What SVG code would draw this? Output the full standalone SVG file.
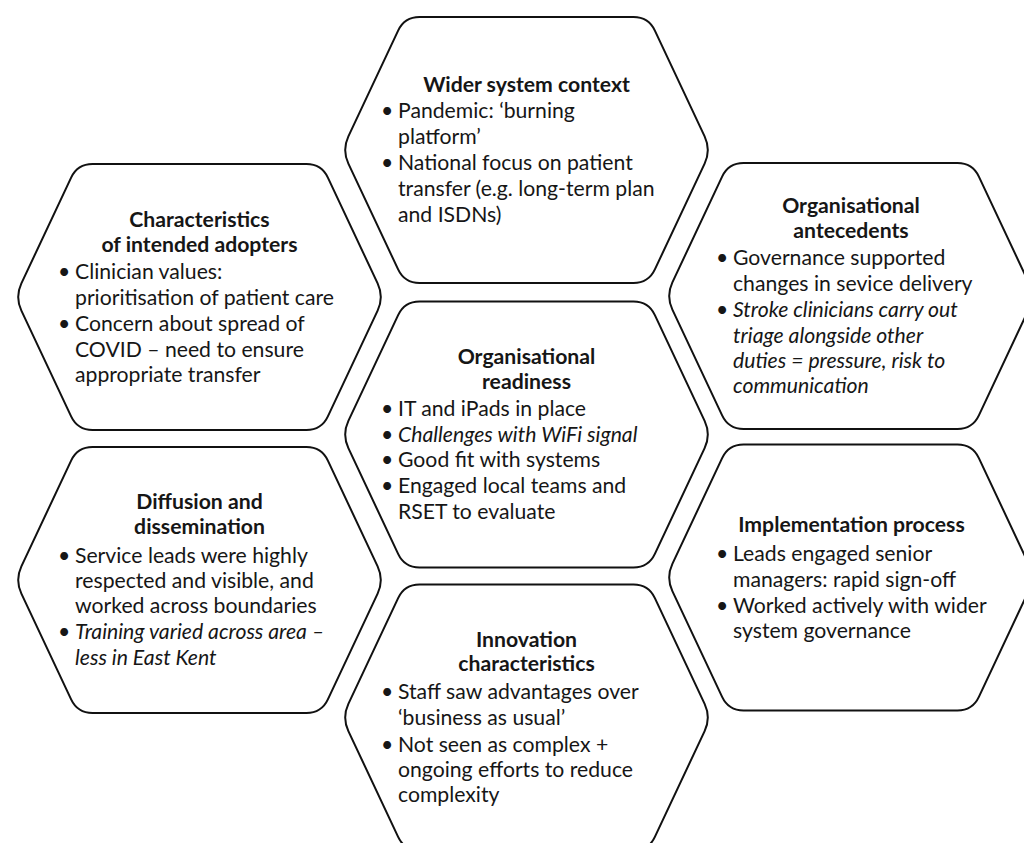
<svg xmlns="http://www.w3.org/2000/svg" xmlns:xlink="http://www.w3.org/1999/xlink" width="1024" height="843" viewBox="0 0 1024 843">
  <defs>
    <!-- rounded hexagon, centred on the origin -->
    <path id="hex" d="M-107,-133 L107,-133 Q122,-133 128.38,-119.42 L178.12,-13.58 Q184.5,0 178.12,13.58 L128.38,119.42 Q122,133 107,133 L-107,133 Q-122,133 -128.38,119.42 L-178.12,13.58 Q-184.5,0 -178.12,-13.58 L-128.38,-119.42 Q-122,-133 -107,-133 Z"/>
    <style>
      .cell { fill: #ffffff; stroke: #111111; stroke-width: 2; }
      text { font-family: Lato, "Open Sans", "Liberation Sans", sans-serif; font-size: 21.2px; fill: #161616; }
      .title { font-weight: bold; text-anchor: middle; }
      .it { font-style: italic; }
    </style>
  </defs>
  <rect width="1024" height="843" fill="#ffffff"/>

  <!-- no connectors in this figure -->
  <g id="connectors"/>

  <g id="wider-system-context">
    <use xlink:href="#hex" href="#hex" x="526.5" y="150" class="cell"/>
    <text class="title" x="526.5" y="92">Wider system context</text>
    <text x="381" y="118">•</text><text x="398" y="118">Pandemic: ‘burning</text>
    <text x="398" y="144">platform’</text>
    <text x="381" y="170">•</text><text x="398" y="170">National focus on patient</text>
    <text x="398" y="196">transfer (e.g. long-term plan</text>
    <text x="398" y="222">and ISDNs)</text>
  </g>

  <g id="characteristics-of-adopters">
    <use xlink:href="#hex" href="#hex" x="199.5" y="297" class="cell"/>
    <text class="title" x="199.5" y="227">Characteristics</text>
    <text class="title" x="199.5" y="252">of intended adopters</text>
    <text x="58" y="279">•</text><text x="75" y="279">Clinician values:</text>
    <text x="75" y="305">prioritisation of patient care</text>
    <text x="58" y="331">•</text><text x="75" y="331">Concern about spread of</text>
    <text x="75" y="357">COVID – need to ensure</text>
    <text x="75" y="382">appropriate transfer</text>
  </g>

  <g id="organisational-antecedents">
    <use xlink:href="#hex" href="#hex" x="850.5" y="296" class="cell"/>
    <text class="title" x="851" y="213">Organisational</text>
    <text class="title" x="851" y="238">antecedents</text>
    <text x="716" y="265">•</text><text x="733" y="265">Governance supported</text>
    <text x="733" y="291">changes in sevice delivery</text>
    <text x="716" y="317">•</text><text x="733" y="317" class="it">Stroke clinicians carry out</text>
    <text x="733" y="343" class="it">triage alongside other</text>
    <text x="733" y="368" class="it">duties = pressure, risk to</text>
    <text x="733" y="393" class="it">communication</text>
  </g>

  <g id="organisational-readiness">
    <use xlink:href="#hex" href="#hex" x="526.5" y="434.5" class="cell"/>
    <text class="title" x="526.5" y="364">Organisational</text>
    <text class="title" x="526.5" y="389">readiness</text>
    <text x="381" y="416">•</text><text x="398" y="416">IT and iPads in place</text>
    <text x="381" y="442">•</text><text x="398" y="442" class="it">Challenges with WiFi signal</text>
    <text x="381" y="467">•</text><text x="398" y="467">Good fit with systems</text>
    <text x="381" y="493">•</text><text x="398" y="493">Engaged local teams and</text>
    <text x="398" y="519">RSET to evaluate</text>
  </g>

  <g id="diffusion-and-dissemination">
    <use xlink:href="#hex" href="#hex" x="199.5" y="580" class="cell"/>
    <text class="title" x="199.5" y="509">Diffusion and</text>
    <text class="title" x="199.5" y="534">dissemination</text>
    <text x="58" y="563">•</text><text x="75" y="563">Service leads were highly</text>
    <text x="75" y="588">respected and visible, and</text>
    <text x="75" y="613">worked across boundaries</text>
    <text x="58" y="639">•</text><text x="75" y="639" class="it">Training varied across area –</text>
    <text x="75" y="665" class="it">less in East Kent</text>
  </g>

  <g id="implementation-process">
    <use xlink:href="#hex" href="#hex" x="850.5" y="577.5" class="cell"/>
    <text class="title" x="851.5" y="532">Implementation process</text>
    <text x="716" y="561">•</text><text x="733" y="561">Leads engaged senior</text>
    <text x="733" y="587">managers: rapid sign-off</text>
    <text x="716" y="613">•</text><text x="733" y="613">Worked actively with wider</text>
    <text x="733" y="638">system governance</text>
  </g>

  <g id="innovation-characteristics">
    <use xlink:href="#hex" href="#hex" x="526.5" y="717.5" class="cell"/>
    <text class="title" x="526.5" y="647">Innovation</text>
    <text class="title" x="526.5" y="671">characteristics</text>
    <text x="381" y="699">•</text><text x="398" y="699">Staff saw advantages over</text>
    <text x="398" y="725">‘business as usual’</text>
    <text x="381" y="752">•</text><text x="398" y="752">Not seen as complex +</text>
    <text x="398" y="777">ongoing efforts to reduce</text>
    <text x="398" y="802">complexity</text>
  </g>
</svg>
